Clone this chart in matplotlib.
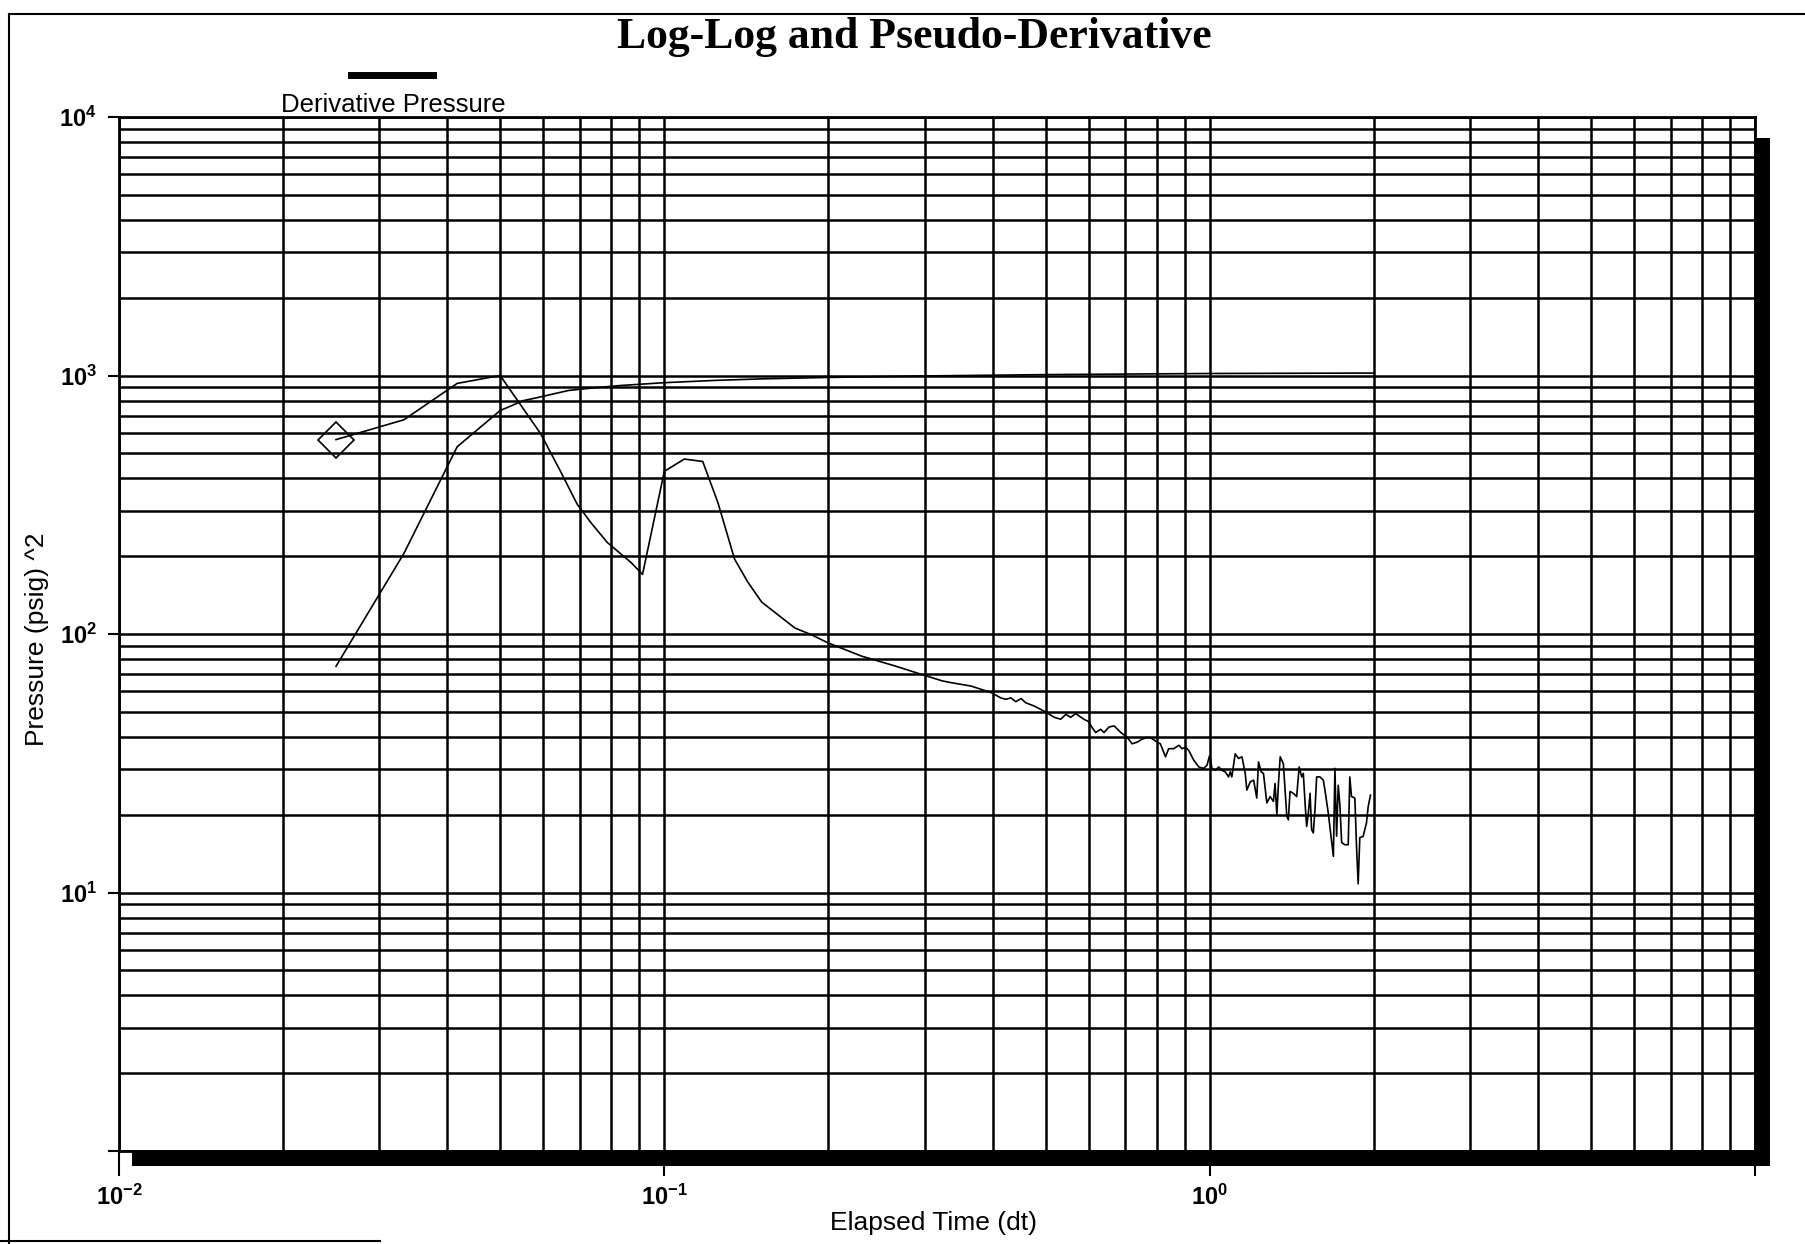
import matplotlib.pyplot as plt
from matplotlib.patches import Rectangle
from matplotlib.lines import Line2D

plt.rcParams['font.family'] = 'Liberation Sans'
plt.rcParams['mathtext.fontset'] = 'custom'
plt.rcParams['mathtext.rm'] = 'Liberation Sans'
plt.rcParams['mathtext.bf'] = 'Liberation Sans:bold'

# pressure curve (hours, psig^2)
t_pres = [0.025, 0.0333, 0.0417, 0.05, 0.0552, 0.0583, 0.0667, 0.075, 0.0833, 0.1,
          0.125, 0.15, 0.2, 0.3, 0.5, 1.0, 2.0]
pres = [75, 205, 530, 732, 800, 820, 875, 898, 915, 938,
        958, 970, 983, 996, 1008, 1018, 1022]

# pseudo-derivative
t_deriv = [0.025, 0.0333, 0.0417, 0.05, 0.0593, 0.0645, 0.0692, 0.0733, 0.0786, 0.0869,
           0.0912, 0.1, 0.1088, 0.1176, 0.1254, 0.1345, 0.1422, 0.1508, 0.1616, 0.1735,
           0.186, 0.1996, 0.230, 0.265, 0.296, 0.323, 0.336, 0.365, 0.397, 0.414,
           0.423, 0.432, 0.441, 0.451, 0.460, 0.477, 0.497, 0.519, 0.533, 0.545,
           0.556, 0.568, 0.588, 0.600, 0.609, 0.618, 0.631, 0.640, 0.654, 0.668,
           0.687, 0.706, 0.721, 0.737, 0.752, 0.768, 0.779, 0.801, 0.812, 0.830,
           0.841, 0.859, 0.878, 0.890, 0.903, 0.915, 0.935, 0.955, 0.975, 0.989,
           1.000, 1.010, 1.024, 1.039, 1.053, 1.068, 1.083, 1.091, 1.098, 1.114,
           1.130, 1.146, 1.162, 1.170, 1.187, 1.204, 1.220, 1.229, 1.243, 1.255,
           1.273, 1.291, 1.309, 1.318, 1.328, 1.337, 1.347, 1.365, 1.385, 1.394,
           1.404, 1.424, 1.444, 1.459, 1.475, 1.485, 1.496, 1.506, 1.517, 1.528,
           1.538, 1.549, 1.560, 1.571, 1.593, 1.616, 1.627, 1.650, 1.674, 1.686,
           1.697, 1.709, 1.721, 1.733, 1.746, 1.770, 1.795, 1.807, 1.820, 1.846,
           1.859, 1.872, 1.885, 1.912, 1.939, 1.953, 1.972]
deriv = [565, 674, 932, 1000, 596, 426, 318, 270, 226, 189,
         170, 426, 475, 465, 322, 195, 159, 133, 118.6, 105.5,
         99.4, 92.4, 82.1, 75.2, 69.8, 65.9, 64.8, 62.9, 59.4, 56.6,
         55.9, 56.6, 54.7, 56.3, 54.2, 52.6, 50.3, 47.6, 46.8, 48.9,
         47.6, 49.2, 46.8, 45.8, 43.4, 41.6, 42.8, 41.6, 43.7, 44.1,
         41.6, 39.8, 37.6, 38.2, 39.2, 39.8, 39.7, 38.2, 37.6, 33.5,
         36.0, 36.0, 37.1, 36.0, 36.5, 35.5, 32.5, 30.6, 30.2, 31.1,
         33.9, 30.2, 29.7, 30.6, 29.7, 29.3, 28.0, 29.3, 28.0, 34.4,
         33.0, 33.5, 28.9, 24.9, 26.8, 27.2, 23.2, 32.0, 29.3, 28.9,
         22.2, 23.5, 22.5, 26.4, 20.0, 26.4, 33.5, 31.5, 19.7, 19.1,
         24.6, 24.2, 23.5, 30.6, 28.0, 28.9, 22.2, 18.0, 20.3, 24.2,
         17.5, 17.0, 20.9, 28.0, 28.0, 27.2, 24.9, 20.3, 15.6, 13.8,
         30.2, 16.5, 26.0, 21.8, 15.6, 15.3, 15.3, 28.0, 23.5, 23.2,
         15.1, 10.8, 16.3, 16.5, 18.6, 21.5, 23.8]

x_ticks = [0.01, 0.1, 1, 10]
x_labels = [r'$\mathbf{10^{-2}}$', r'$\mathbf{10^{-1}}$', r'$\mathbf{10^{0}}$', '']
y_ticks = [1, 10, 100, 1000, 10000]
y_labels = ['', r'$\mathbf{10^{1}}$', r'$\mathbf{10^{2}}$', r'$\mathbf{10^{3}}$', r'$\mathbf{10^{4}}$']

W, H = 1806, 1244
fig = plt.figure(figsize=(W / 100, H / 100), dpi=100)
ax = fig.add_axes([119 / W, 1 - 1151 / H, (1755 - 119) / W, (1151 - 117) / H])
ax.set_facecolor('white')

# drop shadow behind the plot box
fig.patches.append(Rectangle((132 / W, 1 - 1166 / H), (1770 - 132) / W, (1166 - 138) / H,
                             transform=fig.transFigure, facecolor='black', zorder=-1))

# page frame from the scanned report
for xs, ys in [([9, 9], [14, H]), ([9, W], [14, 14]), ([0, 380], [H - 3, H - 3])]:
    fig.lines.append(Line2D([x / W for x in xs], [1 - y / H for y in ys],
                            transform=fig.transFigure, color='black', lw=1.5))

ax.plot(t_pres, pres, color='black', lw=1.2)
ax.plot(t_deriv, deriv, color='black', lw=1.2)
ax.plot(t_deriv[:1], deriv[:1], marker='D', ms=18, mfc='none', mec='black', mew=1.2, ls='none')

ax.set_xscale('log')
ax.set_yscale('log')
ax.set_xlim(0.01, 10)
ax.set_ylim(1, 10000)
ax.set_xticks(x_ticks)
ax.set_xticklabels(x_labels)
ax.set_yticks(y_ticks)
ax.set_yticklabels(y_labels)
ax.grid(which='both', color='black', lw=1.8)
ax.tick_params(axis='x', which='major', length=18, width=1.5, pad=6, labelsize=17)
ax.tick_params(axis='y', which='major', length=8, width=1.5, pad=8, labelsize=17)
ax.tick_params(which='minor', length=0)
for s in ax.spines.values():
    s.set_linewidth(2)

ax.set_xlabel('Elapsed Time (dt)', fontsize=19)
ax.set_ylabel('Pressure (psig) ^2', fontsize=19)
ax.xaxis.set_label_coords(0.498, -0.058)
ax.yaxis.set_label_coords(-0.043, 0.495)

fig.text(914 / W, 1 - 37 / H, 'Log-Log and Pseudo-Derivative', family='Liberation Serif',
         weight='bold', fontsize=31.5, ha='center', va='center')

# legend
fig.lines.append(Line2D([351 / W, 433 / W], [1 - 75 / H, 1 - 75 / H],
                        transform=fig.transFigure, color='black', lw=5))
fig.text(393 / W, 1 - 105 / H, 'Derivative Pressure', fontsize=18.5, ha='center', va='center')

fig.savefig('out.png', dpi=100)
